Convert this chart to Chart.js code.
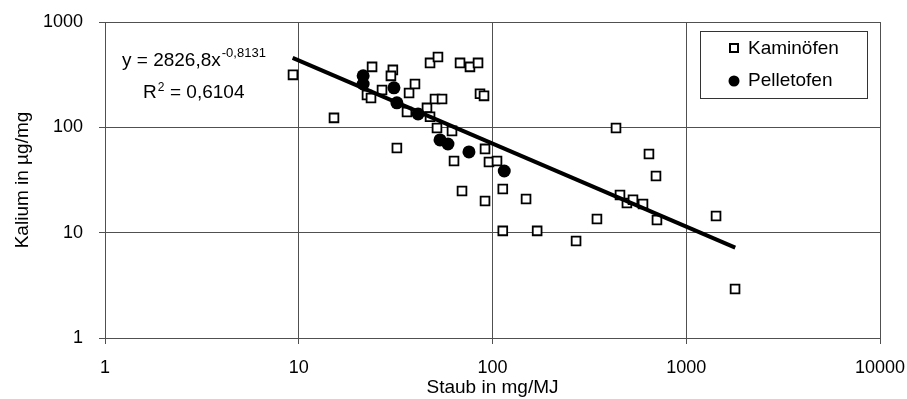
<!DOCTYPE html>
<html><head><meta charset="utf-8">
<script src="https://cdn.jsdelivr.net/npm/chart.js@4/dist/chart.umd.min.js"></script>
<style>html,body{margin:0;padding:0;background:#fff;}</style>
</head><body>
<canvas id="c" width="907" height="399"></canvas>
<script>
// Kaminöfen (squares)
const kaminX = [9.34,15.2,22.5,23.6,23.9,26.9,30.6,29.9,37.1,39.8,36.2,32.1,45.9,47.6,51.7,61.8,50.5,54.9,47.6,52.3,68.0,76.5,84.2,86.2,90.4,91.5,63.3,95.9,105.5,113,69.6,91.5,149,113,170,270,346,434,642,698,455,494,531,598,706,1425,1786];
const kaminY = [315,123,203,190,375,226,351,308,212,258,140,63.7,153,126,98.7,92.5,186,186,409,466,409,375,409,208,199,62.4,48.0,46.9,48.0,26.0,24.9,20.0,20.9,10.4,10.4,8.34,13.5,98.7,55.9,34.5,22.8,19.1,20.5,18.7,13.2,14.4,2.92];
// Pelletofen (filled circles)
const pelletX = [21.5,21.5,31.0,32.1,41.3,53.6,58.9,75.6,115];
const pelletY = [308,258,237,171,134,75.9,69.5,58.4,38.5];
// Trend line end points (power fit, straight on log-log)
const trendX = [9.3,1790];
const trendY = [456,7.2];
// Ticks
const xTicks = [1,10,100,1000,10000];
const yTicks = [1,10,100,1000];
const seriesNames = ['Kaminöfen','Pelletofen'];
const eqMain = 'y = 2826,8x';
const eqExp = '-0,8131';
const r2Val = ' = 0,6104';

const toPts = (xs, ys) => xs.map((x,i)=>({x:x,y:ys[i]}));
const FONT = '"Liberation Sans", Arial, sans-serif';
const GRID = '#505050';

const annot = {
  id:'annot',
  afterDraw(chart){
    const ctx = chart.ctx;
    ctx.save();
    ctx.fillStyle = '#000';
    ctx.textBaseline = 'alphabetic';
    ctx.textAlign = 'left';
    // equation
    ctx.font = '19px ' + FONT;
    ctx.fillText(eqMain, 122, 66);
    let w = ctx.measureText(eqMain).width;
    ctx.font = '13px ' + FONT;
    ctx.fillText(eqExp, 122 + w + 1, 57);
    // R^2
    ctx.font = '19px ' + FONT;
    ctx.fillText('R', 143, 98);
    let wr = ctx.measureText('R').width;
    ctx.font = '12px ' + FONT;
    ctx.fillText('2', 143 + wr + 1, 91);
    ctx.font = '19px ' + FONT;
    ctx.fillText(r2Val, 143 + wr + 8, 98);
    // legend box
    ctx.fillStyle = '#fff';
    ctx.fillRect(700.5, 31.5, 167, 67);
    ctx.strokeStyle = '#333';
    ctx.lineWidth = 1;
    ctx.strokeRect(700.5, 31.5, 167, 67);
    // square marker
    ctx.lineWidth = 2;
    ctx.strokeStyle = '#000';
    ctx.strokeRect(730, 44, 8, 8);
    // circle marker
    ctx.fillStyle = '#000';
    ctx.beginPath(); ctx.arc(734, 81, 5.5, 0, Math.PI*2); ctx.fill();
    ctx.font = '19px ' + FONT;
    ctx.textBaseline = 'middle';
    ctx.fillText(seriesNames[0], 748, 49);
    ctx.fillText(seriesNames[1], 748, 81);
    ctx.restore();
  }
};

new Chart(document.getElementById('c'), {
  type:'scatter',
  data:{datasets:[
    {label:'Trend', type:'line', data:toPts(trendX,trendY), borderColor:'#000', borderWidth:4, pointRadius:0, fill:false, order:0},
    {label:seriesNames[1], data:toPts(pelletX,pelletY), pointStyle:'circle', pointRadius:6.5, backgroundColor:'#000', borderColor:'#000', borderWidth:0, order:1},
    {label:seriesNames[0], data:toPts(kaminX,kaminY), pointStyle:'rect', pointRadius:6.2, backgroundColor:'#fff', borderColor:'#000', borderWidth:1.8, order:2}
  ]},
  options:{
    responsive:false, animation:false, devicePixelRatio:1,
    layout:{padding:{left:0, top:22, right:27, bottom:0}},
    plugins:{legend:{display:false}, tooltip:{enabled:false}},
    scales:{
      x:{type:'logarithmic', min:1, max:10000,
        afterBuildTicks(s){ s.ticks = xTicks.map(v=>({value:v})); },
        afterFit(s){ s.height = 61; s.paddingLeft = 0; s.paddingRight = 0; },
        ticks:{callback:v=>String(v), color:'#000', font:{family:FONT, size:18}, padding:13, maxRotation:0, autoSkip:false},
        grid:{color:GRID, lineWidth:1, tickLength:6, tickColor:GRID},
        border:{color:GRID},
        title:{display:true, text:'Staub in mg/MJ', color:'#000', font:{family:FONT, size:19}, padding:{top:0,bottom:0}}
      },
      y:{type:'logarithmic', min:1, max:1000,
        afterBuildTicks(s){ s.ticks = yTicks.map(v=>({value:v})); },
        afterFit(s){ s.width = 105; s.paddingTop = 0; s.paddingBottom = 0; },
        ticks:{callback:v=>String(v), color:'#000', font:{family:FONT, size:18}, padding:16, autoSkip:false},
        grid:{color:GRID, lineWidth:1, tickLength:6, tickColor:GRID},
        border:{color:GRID},
        title:{display:true, text:'Kalium in µg/mg', color:'#000', font:{family:FONT, size:19}, padding:{top:11,bottom:0}}
      }
    }
  },
  plugins:[annot]
});
</script>
</body></html>
